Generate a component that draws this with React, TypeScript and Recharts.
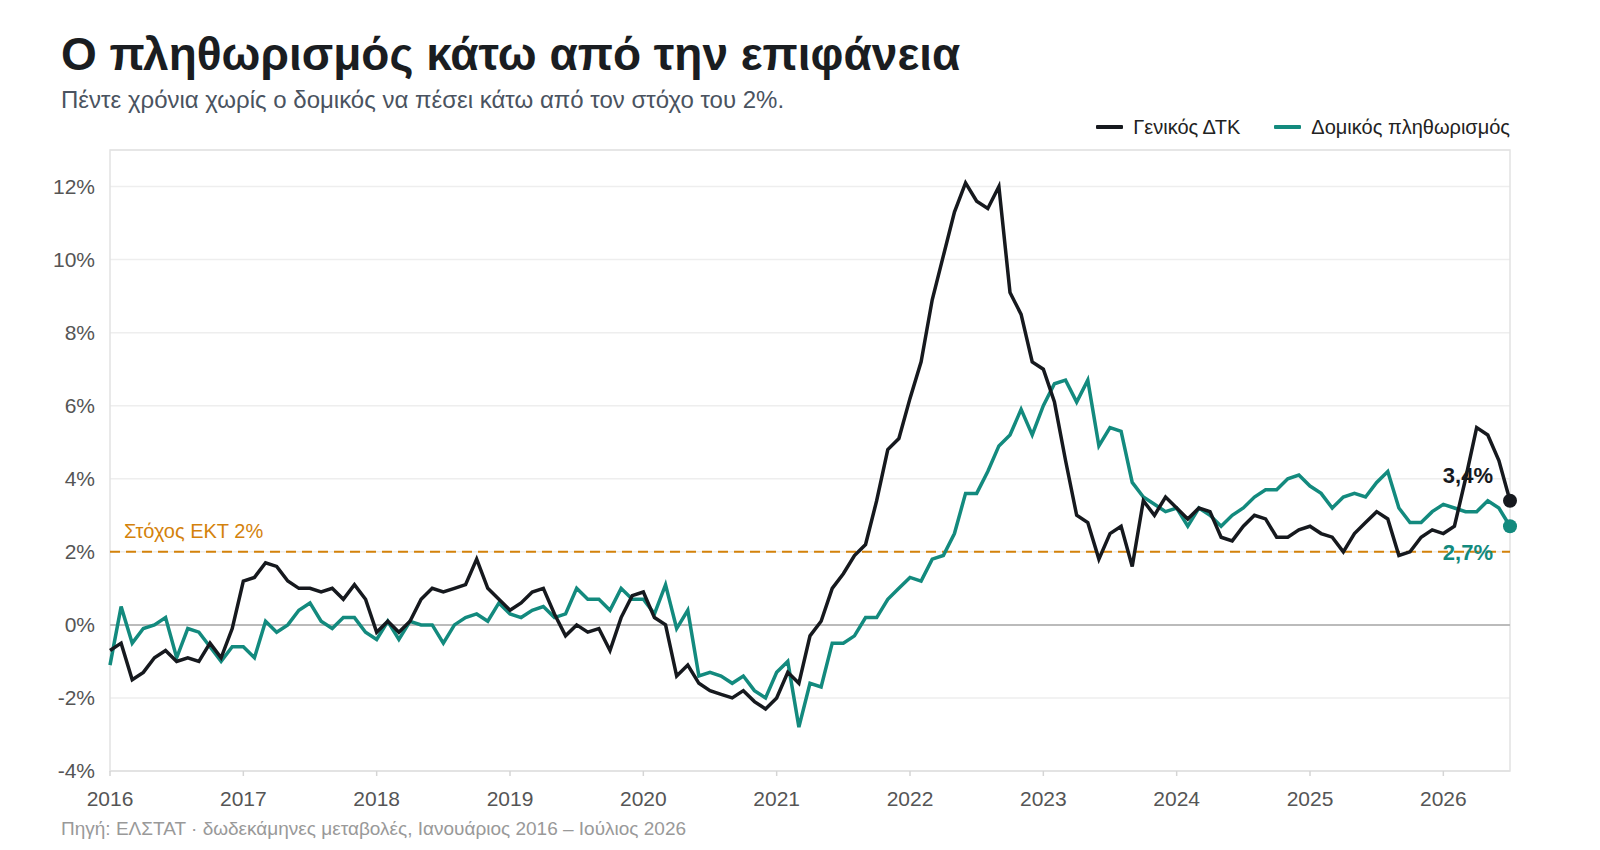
import { CartesianGrid, LineChart, Line, ReferenceArea, ReferenceLine, XAxis, YAxis } from "recharts";

const years = ["2016", "2017", "2018", "2019", "2020", "2021", "2022", "2023", "2024", "2025", "2026"];
const yTicks = [-4, -2, 0, 2, 4, 6, 8, 10, 12];

// Γενικός ΔΤΚ, Jan 2016 - Jul 2026
const headline = [
  -0.7, -0.5, -1.5, -1.3, -0.9, -0.7, -1.0, -0.9, -1.0, -0.5, -0.9, -0.1,
  1.2, 1.3, 1.7, 1.6, 1.2, 1.0, 1.0, 0.9, 1.0, 0.7, 1.1, 0.7,
  -0.2, 0.1, -0.2, 0.1, 0.7, 1.0, 0.9, 1.0, 1.1, 1.8, 1.0, 0.7,
  0.4, 0.6, 0.9, 1.0, 0.3, -0.3, 0.0, -0.2, -0.1, -0.7, 0.2, 0.8,
  0.9, 0.2, 0.0, -1.4, -1.1, -1.6, -1.8, -1.9, -2.0, -1.8, -2.1, -2.3,
  -2.0, -1.3, -1.6, -0.3, 0.1, 1.0, 1.4, 1.9, 2.2, 3.4, 4.8, 5.1,
  6.2, 7.2, 8.9, 10.1, 11.3, 12.1, 11.6, 11.4, 12.0, 9.1, 8.5, 7.2,
  7.0, 6.1, 4.5, 3.0, 2.8, 1.8, 2.5, 2.7, 1.6, 3.4, 3.0, 3.5,
  3.2, 2.9, 3.2, 3.1, 2.4, 2.3, 2.7, 3.0, 2.9, 2.4, 2.4, 2.6,
  2.7, 2.5, 2.4, 2.0, 2.5, 2.8, 3.1, 2.9, 1.9, 2.0, 2.4, 2.6,
  2.5, 2.7, 4.0, 5.4, 5.2, 4.5, 3.4,
];

// Δομικός πληθωρισμός
const core = [
  -1.1, 0.5, -0.5, -0.1, 0.0, 0.2, -0.9, -0.1, -0.2, -0.6, -1.0, -0.6,
  -0.6, -0.9, 0.1, -0.2, 0.0, 0.4, 0.6, 0.1, -0.1, 0.2, 0.2, -0.2,
  -0.4, 0.1, -0.4, 0.1, 0.0, 0.0, -0.5, 0.0, 0.2, 0.3, 0.1, 0.6,
  0.3, 0.2, 0.4, 0.5, 0.2, 0.3, 1.0, 0.7, 0.7, 0.4, 1.0, 0.7,
  0.7, 0.3, 1.1, -0.1, 0.4, -1.4, -1.3, -1.4, -1.6, -1.4, -1.8, -2.0,
  -1.3, -1.0, -2.8, -1.6, -1.7, -0.5, -0.5, -0.3, 0.2, 0.2, 0.7, 1.0,
  1.3, 1.2, 1.8, 1.9, 2.5, 3.6, 3.6, 4.2, 4.9, 5.2, 5.9, 5.2,
  6.0, 6.6, 6.7, 6.1, 6.7, 4.9, 5.4, 5.3, 3.9, 3.5, 3.3, 3.1,
  3.2, 2.7, 3.2, 3.0, 2.7, 3.0, 3.2, 3.5, 3.7, 3.7, 4.0, 4.1,
  3.8, 3.6, 3.2, 3.5, 3.6, 3.5, 3.9, 4.2, 3.2, 2.8, 2.8, 3.1,
  3.3, 3.2, 3.1, 3.1, 3.4, 3.2, 2.7,
];

const TARGET = 2;

const BLACK = "#16191e";
const TEAL = "#138a7e";
const ORANGE = "#d4820b";
const FONT = '"Liberation Sans", Arial, Helvetica, sans-serif';

const data = headline.map((v, i) => ({ t: i, headline: v, core: core[i] }));
const lastIndex = data.length - 1;
const xTicks = years.map((_, i) => i * 12);

const fmt = (v: number) => `${v.toFixed(1).replace(".", ",")}%`;

const endDot = (color: string, labelDy: number) => (props: any) => {
  const { cx, cy, index, value } = props;
  if (index !== lastIndex) return <g key={`d-${index}`} />;
  const v = Array.isArray(value) ? value[1] : value;
  return (
    <g key={`d-${index}`}>
      <circle cx={cx} cy={cy} r={7} fill={color} />
      <text x={cx - 17} y={cy + labelDy} textAnchor="end" fill={color} fontSize={22} fontWeight="bold" fontFamily={FONT}>
        {fmt(v)}
      </text>
    </g>
  );
};

const TargetLabel = (props: any) => {
  const { viewBox } = props;
  return (
    <text x={viewBox.x + 14} y={viewBox.y - 14} fill={ORANGE} fontSize={20} fontFamily={FONT}>
      Στόχος ΕΚΤ 2%
    </text>
  );
};

const LegendItem = ({ color, text }: { color: string; text: string }) => (
  <div style={{ display: "flex", alignItems: "center" }}>
    <span style={{ width: 27, height: 4, background: color, borderRadius: 1, marginRight: 10 }} />
    <span>{text}</span>
  </div>
);

export default function App() {
  return (
    <div style={{ position: "absolute", left: 0, top: 0, width: 1600, height: 850, background: "#fff", fontFamily: FONT, overflow: "hidden" }}>
      <div style={{ position: "absolute", left: 61, top: 31, fontSize: 46, lineHeight: "46px", fontWeight: "bold", color: "#1a1d21" }}>
        Ο πληθωρισμός κάτω από την επιφάνεια
      </div>
      <div style={{ position: "absolute", left: 61, top: 88, fontSize: 24, lineHeight: "24px", color: "#4a5360" }}>
        Πέντε χρόνια χωρίς ο δομικός να πέσει κάτω από τον στόχο του 2%.
      </div>
      <div style={{ position: "absolute", right: 90, top: 117, fontSize: 20, lineHeight: "20px", color: "#222", display: "flex", gap: 34 }}>
        <LegendItem color={BLACK} text="Γενικός ΔΤΚ" />
        <LegendItem color={TEAL} text="Δομικός πληθωρισμός" />
      </div>

      <div style={{ position: "absolute", left: 0, top: 0 }}>
        <LineChart width={1600} height={850} data={data} margin={{ top: 150, right: 90, bottom: 49, left: 50 }}>
          <CartesianGrid horizontal vertical={false} stroke="#eeeeee" strokeWidth={1.5} />
          <ReferenceArea x1={0} x2={126} y1={-4} y2={13} fill="none" stroke="#e2e2e2" strokeWidth={1.5} />
          <XAxis
            dataKey="t"
            type="number"
            domain={[0, 126]}
            ticks={xTicks}
            tickFormatter={(v: number) => years[v / 12]}
            axisLine={{ stroke: "#e2e2e2", strokeWidth: 1.5 }}
            tickLine={{ stroke: "#d5d5d5", strokeWidth: 1.5 }}
            tickSize={5}
            tickMargin={15}
            tick={{ fill: "#555", fontSize: 21, fontFamily: FONT }}
          />
          <YAxis
            type="number"
            domain={[-4, 13]}
            ticks={yTicks}
            tickFormatter={(v: number) => `${v}%`}
            axisLine={false}
            tickLine={false}
            tickSize={0}
            tickMargin={15}
            width={60}
            tick={{ fill: "#555", fontSize: 21, fontFamily: FONT }}
          />
          <ReferenceLine y={0} stroke="#bbbbbb" strokeWidth={2} />
          <ReferenceLine y={TARGET} stroke={ORANGE} strokeWidth={2} strokeDasharray="10 6" label={<TargetLabel />} />
          <Line
            dataKey="core"
            type="linear"
            stroke={TEAL}
            strokeWidth={3.5}
            dot={endDot(TEAL, 34)}
            activeDot={false}
            isAnimationActive={false}
          />
          <Line
            dataKey="headline"
            type="linear"
            stroke={BLACK}
            strokeWidth={3.5}
            dot={endDot(BLACK, -18)}
            activeDot={false}
            isAnimationActive={false}
          />
        </LineChart>
      </div>

      <div style={{ position: "absolute", left: 61, top: 819, fontSize: 19, lineHeight: "19px", color: "#999" }}>
        Πηγή: ΕΛΣΤΑΤ · δωδεκάμηνες μεταβολές, Ιανουάριος 2016 – Ιούλιος 2026
      </div>
    </div>
  );
}
